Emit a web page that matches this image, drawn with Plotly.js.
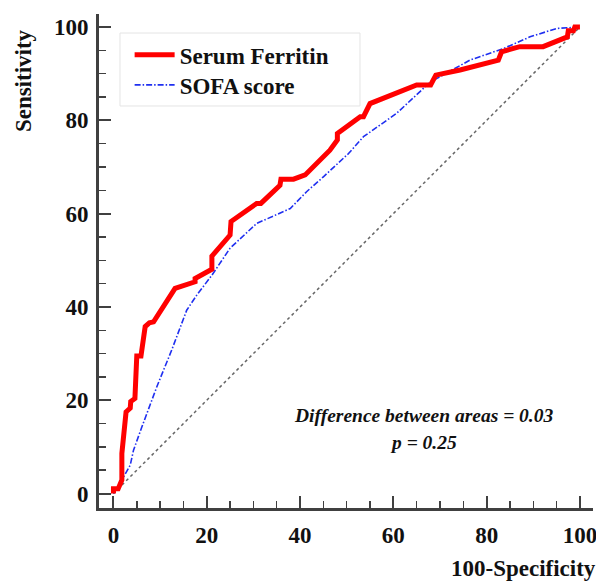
<!DOCTYPE html>
<html>
<head>
<meta charset="utf-8">
<script src="https://cdn.plot.ly/plotly-3.0.1.min.js"></script>
<style>html,body{margin:0;padding:0;background:#fff;}#chart{width:596px;height:583px;}</style>
</head>
<body>
<div id="chart"></div>
<script>
// Serum Ferritin ROC curve (100-Specificity, Sensitivity)
const ferritinX = [0, 0, 1.0, 1.4, 1.8, 1.8, 2.1, 2.7, 3.6, 3.7, 4.6, 5.0, 5.9, 6.8, 7.7, 8.6, 13.2, 16.4, 17.5, 17.5, 21.1, 21.1, 25.0, 25.2, 30.7, 31.6, 35.7, 35.9, 38.6, 41.1, 46.4, 48.0, 48.0, 52.9, 53.6, 55.0, 65.0, 68.0, 69.1, 74.3, 82.5, 83.2, 87.1, 92.1, 97.3, 97.5, 98.6, 98.9, 100];
const ferritinY = [0, 1.0, 1.0, 1.8, 2.9, 8.6, 11.5, 17.5, 18.3, 19.7, 20.4, 29.5, 29.5, 35.8, 36.6, 36.8, 44.0, 44.9, 45.4, 46.1, 48.1, 50.9, 55.4, 58.3, 62.2, 62.2, 66.1, 67.4, 67.4, 68.3, 73.6, 75.8, 77.2, 80.8, 80.8, 83.6, 87.6, 87.6, 89.7, 90.8, 92.9, 94.7, 95.8, 95.8, 97.9, 99.2, 99.2, 100, 100];

// SOFA score ROC curve
const sofaX = [0, 1.4, 3.6, 4.3, 6.1, 9.3, 12.5, 15.7, 17.9, 21.1, 25.0, 30.7, 37.9, 41.4, 45.0, 50.4, 53.6, 60.7, 67.9, 76.4, 83.6, 89.3, 95.0, 100];
const sofaY = [0, 2.2, 6.1, 9.3, 14.3, 22.9, 30.8, 39.3, 42.6, 46.8, 52.6, 57.9, 61.1, 64.7, 67.9, 72.9, 76.5, 81.5, 88.2, 92.9, 95.4, 97.9, 99.7, 100];

// Reference (chance) diagonal
const diagX = [0, 100];
const diagY = [0, 100];

const tickVals = [0, 20, 40, 60, 80, 100];
const tickText = ["0", "20", "40", "60", "80", "100"];

const seriesNames = ["Serum Ferritin", "SOFA score"];
const xTitle = "100-Specificity";
const yTitle = "Sensitivity";
const noteLine1 = "Difference between areas = 0.03";
const noteLine2 = "p = 0.25";

const serif = "Liberation Serif, Times New Roman, serif";
const axisColor = "#404040";
const boldFont = {family: serif, size: 23, color: "#111", weight: "bold"};

const traces = [
  {x: diagX, y: diagY, mode: "lines", showlegend: false, hoverinfo: "skip",
   line: {color: "#666666", width: 1.5, dash: "dot"}},
  {x: sofaX, y: sofaY, mode: "lines", name: seriesNames[1], legend: "legend2",
   line: {color: "#1f2ff0", width: 1.6, dash: "6px,2px,1.5px,2px"}},
  {x: ferritinX, y: ferritinY, mode: "lines", name: seriesNames[0], legend: "legend",
   line: {color: "#ff0000", width: 5}}
];

const axisCommon = {
  range: [-3.1, 102.8],
  showgrid: false, zeroline: false,
  showline: true, linecolor: axisColor, linewidth: 3,
  ticks: "inside", ticklen: 12, tickwidth: 2, tickcolor: axisColor,
  tickmode: "array", tickvals: tickVals, ticktext: tickText,
  tickfont: boldFont, ticklabeloverflow: "allow",
  minor: {dtick: 5, ticks: "inside", ticklen: 7, tickwidth: 1.5, tickcolor: axisColor, showgrid: false},
  fixedrange: true
};

const legendCommon = {
  xanchor: "left", yanchor: "top",
  bgcolor: "rgba(255,255,255,0)", borderwidth: 0,
  font: boldFont, itemwidth: 40
};

const layout = {
  width: 596, height: 583,
  margin: {l: 99, r: 3, t: 14, b: 75},
  paper_bgcolor: "#fff", plot_bgcolor: "#fff",
  xaxis: Object.assign({}, axisCommon, {ticklabelstandoff: 4}),
  yaxis: Object.assign({}, axisCommon, {ticklabelstandoff: 3}),
  showlegend: true,
  legend: Object.assign({}, legendCommon, {x: 0.062, y: 0.961}),
  legend2: Object.assign({}, legendCommon, {x: 0.062, y: 0.900}),
  shapes: [
    {type: "rect", xref: "paper", yref: "paper", x0: 0.0425, x1: 0.5283, y0: 0.8138, y1: 0.9615,
     line: {color: "#e4e4e4", width: 1}, fillcolor: "rgba(0,0,0,0)", layer: "below"}
  ],
  annotations: [
    {text: yTitle, xref: "paper", yref: "paper", x: -0.154, y: 0.866,
     xanchor: "center", yanchor: "middle", textangle: -90, showarrow: false,
     font: boldFont},
    {text: xTitle, xref: "paper", yref: "paper", x: 1.010, y: -0.1518,
     xanchor: "right", yanchor: "bottom", showarrow: false,
     font: boldFont},
    {text: noteLine1, xref: "x", yref: "y", x: 66.4, y: 16.8,
     xanchor: "center", yanchor: "middle", showarrow: false,
     font: {family: serif, size: 19.5, color: "#111", style: "italic", weight: "bold"}},
    {text: noteLine2, xref: "x", yref: "y", x: 66.4, y: 11.0,
     xanchor: "center", yanchor: "middle", showarrow: false,
     font: {family: serif, size: 19.5, color: "#111", style: "italic", weight: "bold"}}
  ]
};

Plotly.newPlot("chart", traces, layout, {displayModeBar: false, staticPlot: true});
</script>
</body>
</html>
